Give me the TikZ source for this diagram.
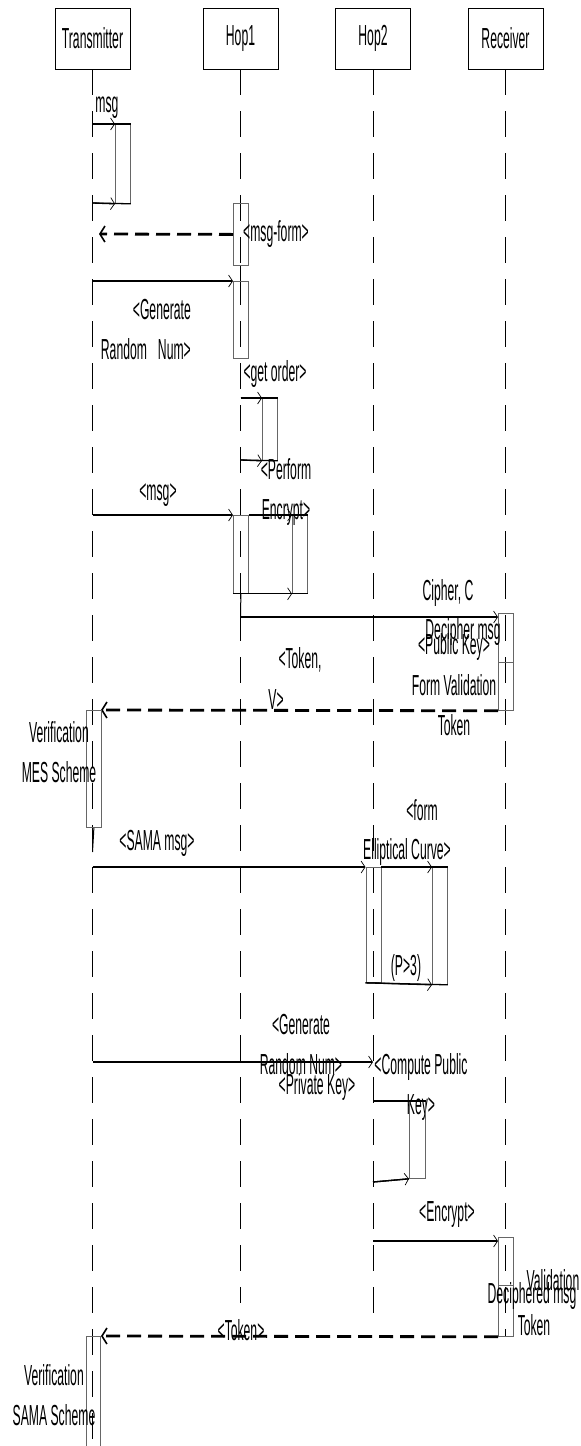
\documentclass[tikz,border=0pt]{standalone}
\usepackage{fontspec}
\newfontfamily\lbl{Liberation Sans}[FakeStretch=0.42]
\usetikzlibrary{arrows.meta}
\begin{document}
\begin{tikzpicture}[x=1pt,y=-1pt,
  head/.style={draw, line width=0.9pt, minimum width=75pt, minimum height=61pt, inner sep=0pt, font=\lbl\fontsize{29}{40}\selectfont},
  txt/.style={inner sep=0pt, font=\lbl\fontsize{29}{40}\selectfont},
  life/.style={line width=1pt, dash pattern=on 26pt off 16pt},
  msgline/.style={line width=1.3pt, -{Straight Barb[length=4pt,width=12pt,line width=0.7pt]}},
  retline/.style={line width=2.8pt, dash pattern=on 14pt off 7pt, -{Straight Barb[length=5pt,width=16pt,line width=1.6pt]}},
  plain/.style={line width=1.3pt},
  actbox/.style={draw=black!60, line width=0.8pt, inner sep=0pt, minimum width=15pt, anchor=north west},
  ]
\fill[white] (0,0) rectangle (581,1446);
\useasboundingbox (0,0) rectangle (581,1446);

% heads and lifelines
\node[head] (T) at (92.5,38.5) {Transmitter};
\node[head] (H1) at (240.5,38.5) {Hop1};
\node[head] (H2) at (373,38.5) {Hop2};
\node[head] (R) at (505.5,38.5) {Receiver};
\coordinate (Tend) at (92.5,1446);
\coordinate (H1end) at (240.5,1303);
\coordinate (H2end) at (373,1328);
\coordinate (Rend) at (505.5,1336);
\draw[life] (T.south) -- (Tend);
\draw[life] (H1.south) -- (H1end);
\draw[life] (H2.south) -- (H2end);
\draw[life] (R.south) -- (Rend);

% self message 1 (Transmitter)
\node[actbox, minimum height=79pt] (s1) at (115,124) {};
\coordinate (t124) at (92.5,124);
\coordinate (t203) at (92.5,203);
\draw[plain] (t124) -- (s1.north east);
\draw[msgline] (t124) -- (s1.north west);
\draw[plain] (t203) -- (s1.south east);
\draw[msgline] (t203) -- (s1.south west);
\node[txt] (lmsg) at (107,108) {msg};

% Hop1 activation and msg-form return
\node[actbox, minimum height=62pt] (a1) at (233,203) {};
\coordinate (t234) at (99,234);
\draw[retline] (a1.west) -- (t234);
\node[txt] (lmsgform) at (276,234) {<msg-form>};
\node[actbox, minimum height=77pt] (a2) at (233,281) {};
\draw[line width=1pt] (a1.south) -- (a2.north);
\coordinate (t281) at (92.5,281);
\draw[msgline] (t281) -- (a2.north west);
\node[txt, align=right, anchor=east] (lgen1) at (191,330) {<Generate\\Random\hspace{11pt}Num>};

% Hop1 get order
\node[txt] (lgetorder) at (275,374) {<get order>};
\node[actbox, minimum height=62pt] (s2) at (262,398) {};
\coordinate (h398) at (240.5,398);
\coordinate (h460) at (240.5,460);
\draw[plain] (h398) -- (s2.north east);
\draw[msgline] (h398) -- (s2.north west);
\draw[plain] (h460) -- (s2.south east);
\draw[msgline] (h460) -- (s2.south west);
\node[txt, align=center] (lperform) at (286,492) {<Perform\\Encrypt>};

% msg to Hop1, perform encrypt
\node[txt] (lmsg2) at (158,495) {<msg>};
\node[actbox, minimum height=78pt] (a3) at (233,515) {};
\coordinate (t515) at (92.5,515);
\draw[msgline] (t515) -- (a3.north west);
\node[actbox, minimum height=78pt] (s3) at (292,515) {};
\draw[plain] (a3.north east) -- (s3.north east);
\draw[msgline] (a3.north east) -- (s3.north west);
\draw[plain] (a3.south west) -- (s3.south east);
\draw[msgline] (a3.south west) -- (s3.south west);

% cipher to receiver
\coordinate (h617) at (240.5,617);
\draw[line width=1pt] (a3.south) -- (h617);
\node[actbox, minimum height=49pt] (r1) at (498,613) {};
\node[actbox, minimum height=48pt] (r2) at (498,662) {};
\coordinate (r617) at (r1.west |- h617);
\draw[msgline] (h617) -- (r617);
\node[txt] (lcipher) at (448,593) {Cipher, C};
\node[txt] (ldecipher) at (463,632) {Decipher msg};
\node[txt] (lpubkey) at (454,647) {<Public Key>};
\node[txt, align=center] (lformval) at (454,705) {Form Validation\\Token};

% token return
\coordinate (t710) at (101,710);
\draw[retline] (r2.south west) -- (t710);
\node[txt] (ltok1) at (300,660) {<Token,};
\node[txt] (ltok2) at (276,700) {V>};
\node[actbox, minimum height=117pt] (a5) at (86,710) {};
\node[txt, align=center] (lmes) at (59,752) {Verification\\MES Scheme};
\coordinate (t852) at (92.5,852);
\draw[line width=1pt] (a5.south) -- (t852);

% SAMA msg
\node[txt] (lsama) at (157,843) {<SAMA msg>};
\node[actbox, minimum height=115pt] (a6) at (365.5,867) {};
\coordinate (t867) at (92.5,867);
\draw[msgline] (t867) -- (a6.north west);
\node[actbox, minimum height=117pt] (s4) at (432,867) {};
\draw[plain] (a6.north east) -- (s4.north east);
\draw[msgline] (a6.north east) -- (s4.north west);
\draw[plain] (a6.south west) -- (s4.south east);
\draw[msgline] (a6.south west) -- (s4.south west);
\node[txt] (lform) at (422,810) {<form};
\node[txt] (lellip) at (407,852) {Elliptical Curve>};
\node[txt] (lp3) at (406,968) {(P>3)};

% generate random num to Hop2
\coordinate (t1062) at (92.5,1062);
\coordinate (h1062) at (373,1062);
\draw[msgline] (t1062) -- (h1062);
\node[txt, align=center] (lgen2) at (301,1045) {<Generate\\Random Num>};
\node[txt] (lpriv) at (317,1087) {<Private Key>};
\node[txt, align=center] (lcompute) at (421,1087) {<Compute Public\\Key>};

% compute public key self message
\node[actbox, minimum height=77pt, minimum width=16pt] (s5) at (409,1101) {};
\coordinate (h1101) at (373,1101);
\coordinate (h1182) at (373,1182);
\draw[plain] (h1101) -- (s5.north east);
\draw[plain] (h1182) -- (s5.south west);
\draw[msgline] (h1182) -- (s5.south west);

% encrypt to receiver
\node[txt] (lencrypt) at (447,1215) {<Encrypt>};
\node[actbox, minimum height=48pt] (r3) at (498,1237) {};
\node[actbox, minimum height=51pt] (r4) at (498,1285) {};
\coordinate (h1241) at (373,1241);
\coordinate (r1241) at (r3.west |- h1241);
\draw[msgline] (h1241) -- (r1241);
\node[txt] (lvalid) at (553,1280) {Validation};
\node[txt] (ldeciphered) at (532,1296) {Deciphered msg};
\node[txt] (ltoken2) at (534,1325) {Token};

% final token return
\coordinate (t1336) at (101,1336);
\draw[retline] (r4.south west) -- (t1336);
\node[txt] (ltoken3) at (241,1330) {<Token>};
\coordinate (a8a) at (86,1446);
\coordinate (a8b) at (86,1336);
\coordinate (a8c) at (100,1336);
\coordinate (a8d) at (100,1446);
\draw[draw=black!60, line width=0.8pt] (a8a) -- (a8b) -- (a8c) -- (a8d);
\node[txt, align=center] (lsamasch) at (54,1395) {Verification\\SAMA Scheme};
\end{tikzpicture}
\end{document}
